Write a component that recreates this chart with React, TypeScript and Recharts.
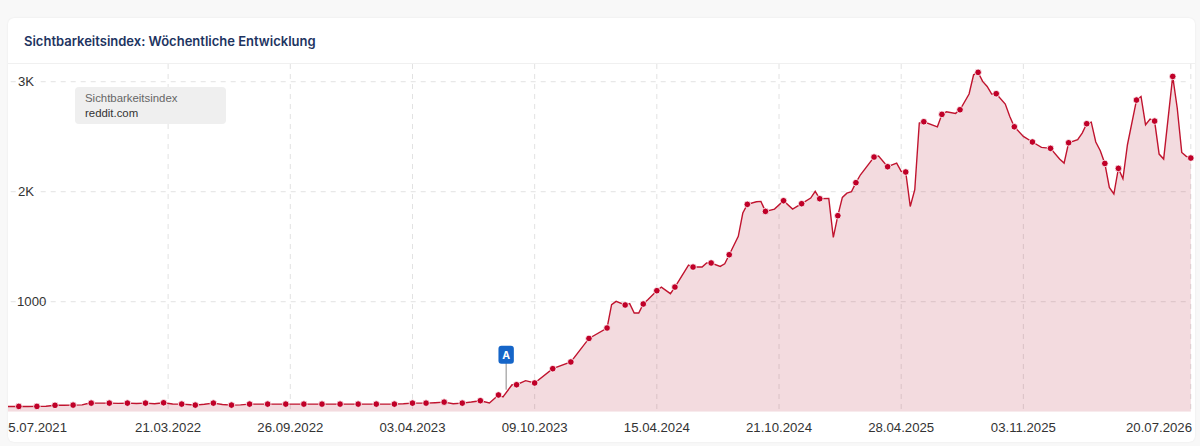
import React from "react";
import { AreaChart, Area, XAxis, YAxis, CartesianGrid, ReferenceDot } from "recharts";

// Week index since 05.07.2021 and the index value read at that week
const weeks = [
  0, 2, 4, 6, 8, 10, 12, 14, 16, 18, 19, 20, 24, 26, 28, 30, 32, 34, 36, 38, 40, 42, 43, 45, 47, 49, 51, 53, 55,
  59, 63, 67, 71, 75, 79, 83, 87, 89, 91, 94, 96, 98, 100, 102, 104, 106, 108, 110, 111, 113, 114, 116, 118,
  122, 126, 130, 134, 135, 136, 138, 139, 140, 141, 142, 143, 145, 146, 148, 149, 152, 153, 155, 156, 157, 159,
  160, 161, 163, 164, 165, 167, 168, 169, 171, 173, 175, 177, 179, 180, 181, 183, 184, 185, 186, 187, 188, 189,
  190, 193, 194, 196, 198, 199, 200, 201, 202, 203, 204, 207, 208, 209, 211, 212, 214, 215, 216, 217, 218, 219,
  220, 222, 223, 224, 226, 228, 230, 232, 234, 235, 236, 238, 239, 240, 241, 242, 243, 244, 245, 246, 247, 248,
  249, 251, 252, 253, 254, 255, 256, 257, 259, 260, 261, 262, 263,
];
const values = [
  50, 47, 48, 47, 48, 50, 58, 59, 60, 62, 72, 78, 78, 76, 78, 75, 78, 72, 81, 70, 69, 63, 60, 68, 78, 65, 60, 62, 69,
  69, 69, 69, 69, 69, 69, 69, 69, 72, 78, 78, 82, 87, 72, 78, 88, 100, 79, 152, 134, 245, 245, 282, 261,
  391, 452, 666, 761, 973, 1003, 970, 982, 897, 897, 979, 1018, 1100, 1133, 1073, 1133, 1333, 1315, 1315, 1352, 1352, 1321,
  1345, 1427, 1594, 1806, 1885, 1909, 1912, 1821, 1842, 1918, 1842, 1891, 1942, 2003, 1936, 1939, 1584, 1782, 1948, 1987, 2000, 2082,
  2154, 2315, 2325, 2227, 2260, 2185, 2179, 1866, 2018, 2624, 2636, 2590, 2703, 2727, 2712, 2745, 2888, 3063, 3085, 3003, 2957, 2888,
  2891, 2797, 2684, 2590, 2503, 2452, 2403, 2394, 2297, 2260, 2445, 2473, 2533, 2618, 2633, 2452, 2373, 2257, 2039, 1979, 2212, 2118,
  2427, 2833, 2866, 2609, 2661, 2642, 2342, 2297, 3048, 2761, 2357, 2321, 2306,
];
// Weeks that carry a marker dot
const dotWeeks = [
  4, 8, 12, 16, 20, 24, 28, 32, 36, 40, 43, 47, 51, 55, 59, 63, 67, 71, 75, 79, 83, 87, 91, 94, 98, 102, 106, 110,
  114, 118, 122, 126, 130, 134, 138, 142, 145, 149, 153, 157, 161, 165, 169, 173, 177, 181, 185, 189, 193, 196,
  200, 204, 208, 212, 216, 220, 224, 228, 232, 236, 240, 244, 247, 251, 255, 259, 263,
];
const tickWeeks = [0, 37, 64, 91, 118, 145, 172, 199, 226, 263];
const tickDates = [
  "05.07.2021", "21.03.2022", "26.09.2022", "03.04.2023", "09.10.2023",
  "15.04.2024", "21.10.2024", "28.04.2025", "03.11.2025", "20.07.2026",
];
const yTicks = [1000, 2000, 3000];
const yLabels = ["1000", "2K", "3K"];
const annotationWeek = 111.7;
const annotationValue = 200;
const annotationLabel = "A";
const title = "Sichtbarkeitsindex: Wöchentliche Entwicklung";
const legendMetric = "Sichtbarkeitsindex";
const legendDomain = "reddit.com";

const data = weeks.map((week, i) => ({ week, value: values[i] }));
const RED = "#c0142f";
const AXIS_FONT = "'Liberation Sans', Arial, sans-serif";

function XTick({ x, y, payload, index }: any) {
  const last = tickWeeks.length - 1;
  const anchor = index === 0 ? "start" : index === last ? "end" : "middle";
  const px = index === 0 ? 1 : index === last ? 1192 : x;
  return (
    <text x={px} y={y} dy={12.5} textAnchor={anchor} fontFamily={AXIS_FONT} fontSize={13.2} fill="#333">
      {tickDates[tickWeeks.indexOf(payload.value)]}
    </text>
  );
}

function YTick({ y, payload }: any) {
  const label = yLabels[yTicks.indexOf(payload.value)];
  return (
    <g>
      <rect x={16} y={y - 8} width={label.length > 2 ? 22 : 19} height={16} fill="#fff" />
      <text x={label.length > 2 ? 17 : 18} y={y} dy={4} fontFamily={AXIS_FONT} fontSize={13.2} fill="#333">
        {label}
      </text>
    </g>
  );
}

function Dot({ cx, cy, payload }: any) {
  if (!dotWeeks.includes(payload.week)) return <g key={payload.week} />;
  return <circle key={payload.week} cx={cx} cy={cy} r={3.3} fill="#c00028" stroke="#fff" strokeOpacity={0.8} strokeWidth={1} />;
}

function Marker({ cx, cy }: any) {
  return (
    <g>
      <line x1={cx} x2={cx} y1={cy} y2={cy - 30} stroke="#8a8a8a" strokeWidth={1} />
      <rect x={cx - 7.7} y={cy - 44} width={15.4} height={18} rx={3} fill="#1565c8" />
      <text x={cx} y={cy - 31} textAnchor="middle" fontFamily="Inter, sans-serif" fontWeight={700} fontSize={10.5} fill="#fff">
        {annotationLabel}
      </text>
    </g>
  );
}

export default function App() {
  return (
    <div style={{ position: "absolute", left: 0, top: 0, width: 1200, height: 446, background: "#f8f8f8", overflow: "hidden" }}>
      <div
        style={{
          position: "absolute", left: 8, top: 18, width: 1187, height: 424, background: "#fff",
          borderRadius: 6, boxShadow: "0 0 2px rgba(0,0,0,0.08)",
        }}
      />
      <div style={{ position: "absolute", left: 8, top: 63, width: 1187, height: 1, background: "#f0f0f0" }} />
      <div
        style={{
          position: "absolute", left: 24, top: 33, fontFamily: "Inter, sans-serif", fontWeight: 600,
          fontSize: 13, lineHeight: "16px", color: "#1d3461", whiteSpace: "nowrap",
        }}
      >
        {title}
      </div>
      <div style={{ position: "absolute", left: 0, top: 0, clipPath: "inset(0 0 0 8px)" }}>
        <AreaChart width={1200} height={446} data={data} margin={{ top: 64, right: 9.2, bottom: 0, left: 0.7 }}>
          <CartesianGrid stroke="#e2e2e2" strokeDasharray="5 5" horizontalValues={yTicks} verticalValues={tickWeeks} />
          <XAxis
            dataKey="week" type="number" domain={[0, 263]} ticks={tickWeeks} interval={0} height={34.3}
            axisLine={false} tickLine={false} tick={<XTick />}
          />
          <YAxis
            type="number" domain={[0, 3161]} ticks={yTicks} width={60} mirror allowDataOverflow interval={0}
            axisLine={false} tickLine={false} tick={<YTick />}
          />
          <Area
            type="linear" dataKey="value" stroke={RED} strokeWidth={1.4} fill="#af0f2a" fillOpacity={0.15}
            dot={(p: any) => <Dot {...p} />} activeDot={false} isAnimationActive={false}
          />
          <ReferenceDot x={annotationWeek} y={annotationValue} r={0} shape={(p: any) => <Marker {...p} />} />
        </AreaChart>
      </div>
      <div
        style={{
          position: "absolute", left: 75, top: 87, width: 141, height: 37, padding: "0 0 0 10px", background: "#efefef",
          borderRadius: 4, fontFamily: AXIS_FONT, fontSize: 11.4, lineHeight: "15.5px",
        }}
      >
        <div style={{ color: "#666", marginTop: 3.5 }}>{legendMetric}</div>
        <div style={{ color: "#333" }}>{legendDomain}</div>
      </div>
    </div>
  );
}
